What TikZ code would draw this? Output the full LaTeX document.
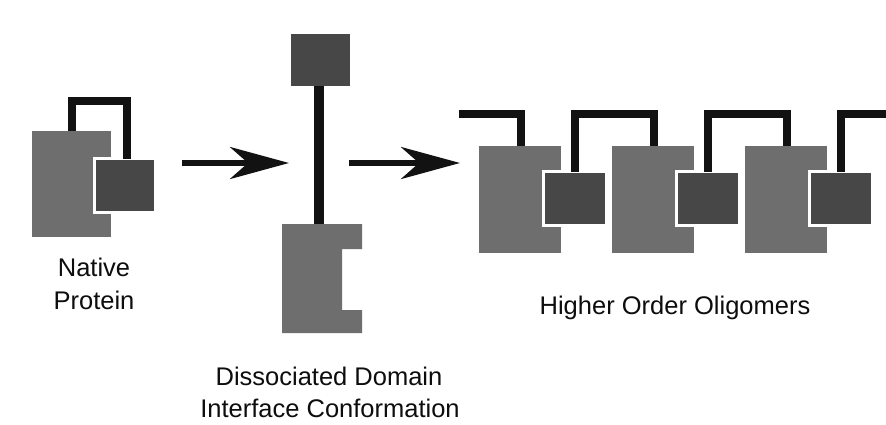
\documentclass[tikz,border=0pt]{standalone}
\usepackage{fontspec}
\setmainfont{Liberation Sans}
\usetikzlibrary{arrows.meta}
\definecolor{bigc}{gray}{0.43}
\definecolor{smallc}{gray}{0.28}
\definecolor{linkc}{gray}{0.07}
\definecolor{txtc}{gray}{0.05}
\tikzset{
  bigblock/.style={fill=bigc, draw=none},
  smallbox/.style={rectangle, fill=smallc, draw=white, line width=3pt, inner sep=0pt, outer sep=0pt},
  linker/.style={draw=linkc, line width=8pt, miter limit=10, line join=miter},
  stick/.style={draw=linkc, line width=10pt},
  bigarrow/.style={draw=linkc, line width=5.5pt, -{Stealth[length=59pt, width=32pt, inset=18pt]}},
  lbl/.style={text=txtc, font=\fontsize{25.5}{32}\selectfont, inner sep=0pt, anchor=base}
}
\begin{document}
\begin{tikzpicture}[x=1pt, y=-1pt]
\useasboundingbox (0,0) rectangle (886,424);
\fill[white] (0,0) rectangle (886,424);

% ---------- Native protein ----------
\fill[bigblock] (32,131) rectangle (111,237);
\node[smallbox, minimum width=61pt, minimum height=54pt] (nsm) at (125,185.5) {};
\coordinate (ntop) at (72,131);
\draw[linker] (ntop) -- (72,100.5) -- (126.5,100.5) -- (nsm.north -| 126.5,0);
\node[lbl] (nat1) at (94,276) {Native};
\node[lbl] (nat2) at (94,309) {Protein};

% ---------- arrow 1 ----------
\coordinate (a1s) at (182,163);
\coordinate (a1e) at (289,163);
\draw[bigarrow] (a1s) -- (a1e);

% ---------- Dissociated ----------
\node[rectangle, fill=smallc, inner sep=0pt, minimum width=59pt, minimum height=52pt] (dsm) at (320.5,60) {};
\fill[bigblock] (282,224) -- (362,224) -- (362,249) -- (342,249) -- (342,310) -- (362,310) -- (362,333) -- (282,333) -- cycle;
\coordinate (dtop) at (319,224);
\draw[stick] (dsm.south -| dtop) -- (dtop);
\node[lbl] (dis1) at (329,385) {Dissociated Domain};
\node[lbl] (dis2) at (330,417) {Interface Conformation};

% ---------- arrow 2 ----------
\coordinate (a2s) at (349,163);
\coordinate (a2e) at (460,163);
\draw[bigarrow] (a2s) -- (a2e);

% ---------- Oligomers ----------
\foreach \i/\bx in {1/479, 2/612, 3/745} {
  \fill[bigblock] (\bx,146) rectangle ++(82,107);
  \node[smallbox, minimum width=63pt, minimum height=54pt] (osm\i) at ({\bx+95.5},198.5) {};
  \coordinate (otop\i) at ({\bx+42},146);
}
\coordinate (lstart) at (459,114);
\coordinate (lend) at (886,114);
\draw[linker] (lstart) -- (otop1 |- lstart) -- (otop1);
\draw[linker] (osm1.north) -- (osm1.north |- lstart) -- (otop2 |- lstart) -- (otop2);
\draw[linker] (osm2.north) -- (osm2.north |- lstart) -- (otop3 |- lstart) -- (otop3);
\draw[linker] (osm3.north) -- (osm3.north |- lstart) -- (lend);
\node[lbl] (olig) at (675,314) {Higher Order Oligomers};
\end{tikzpicture}
\end{document}
